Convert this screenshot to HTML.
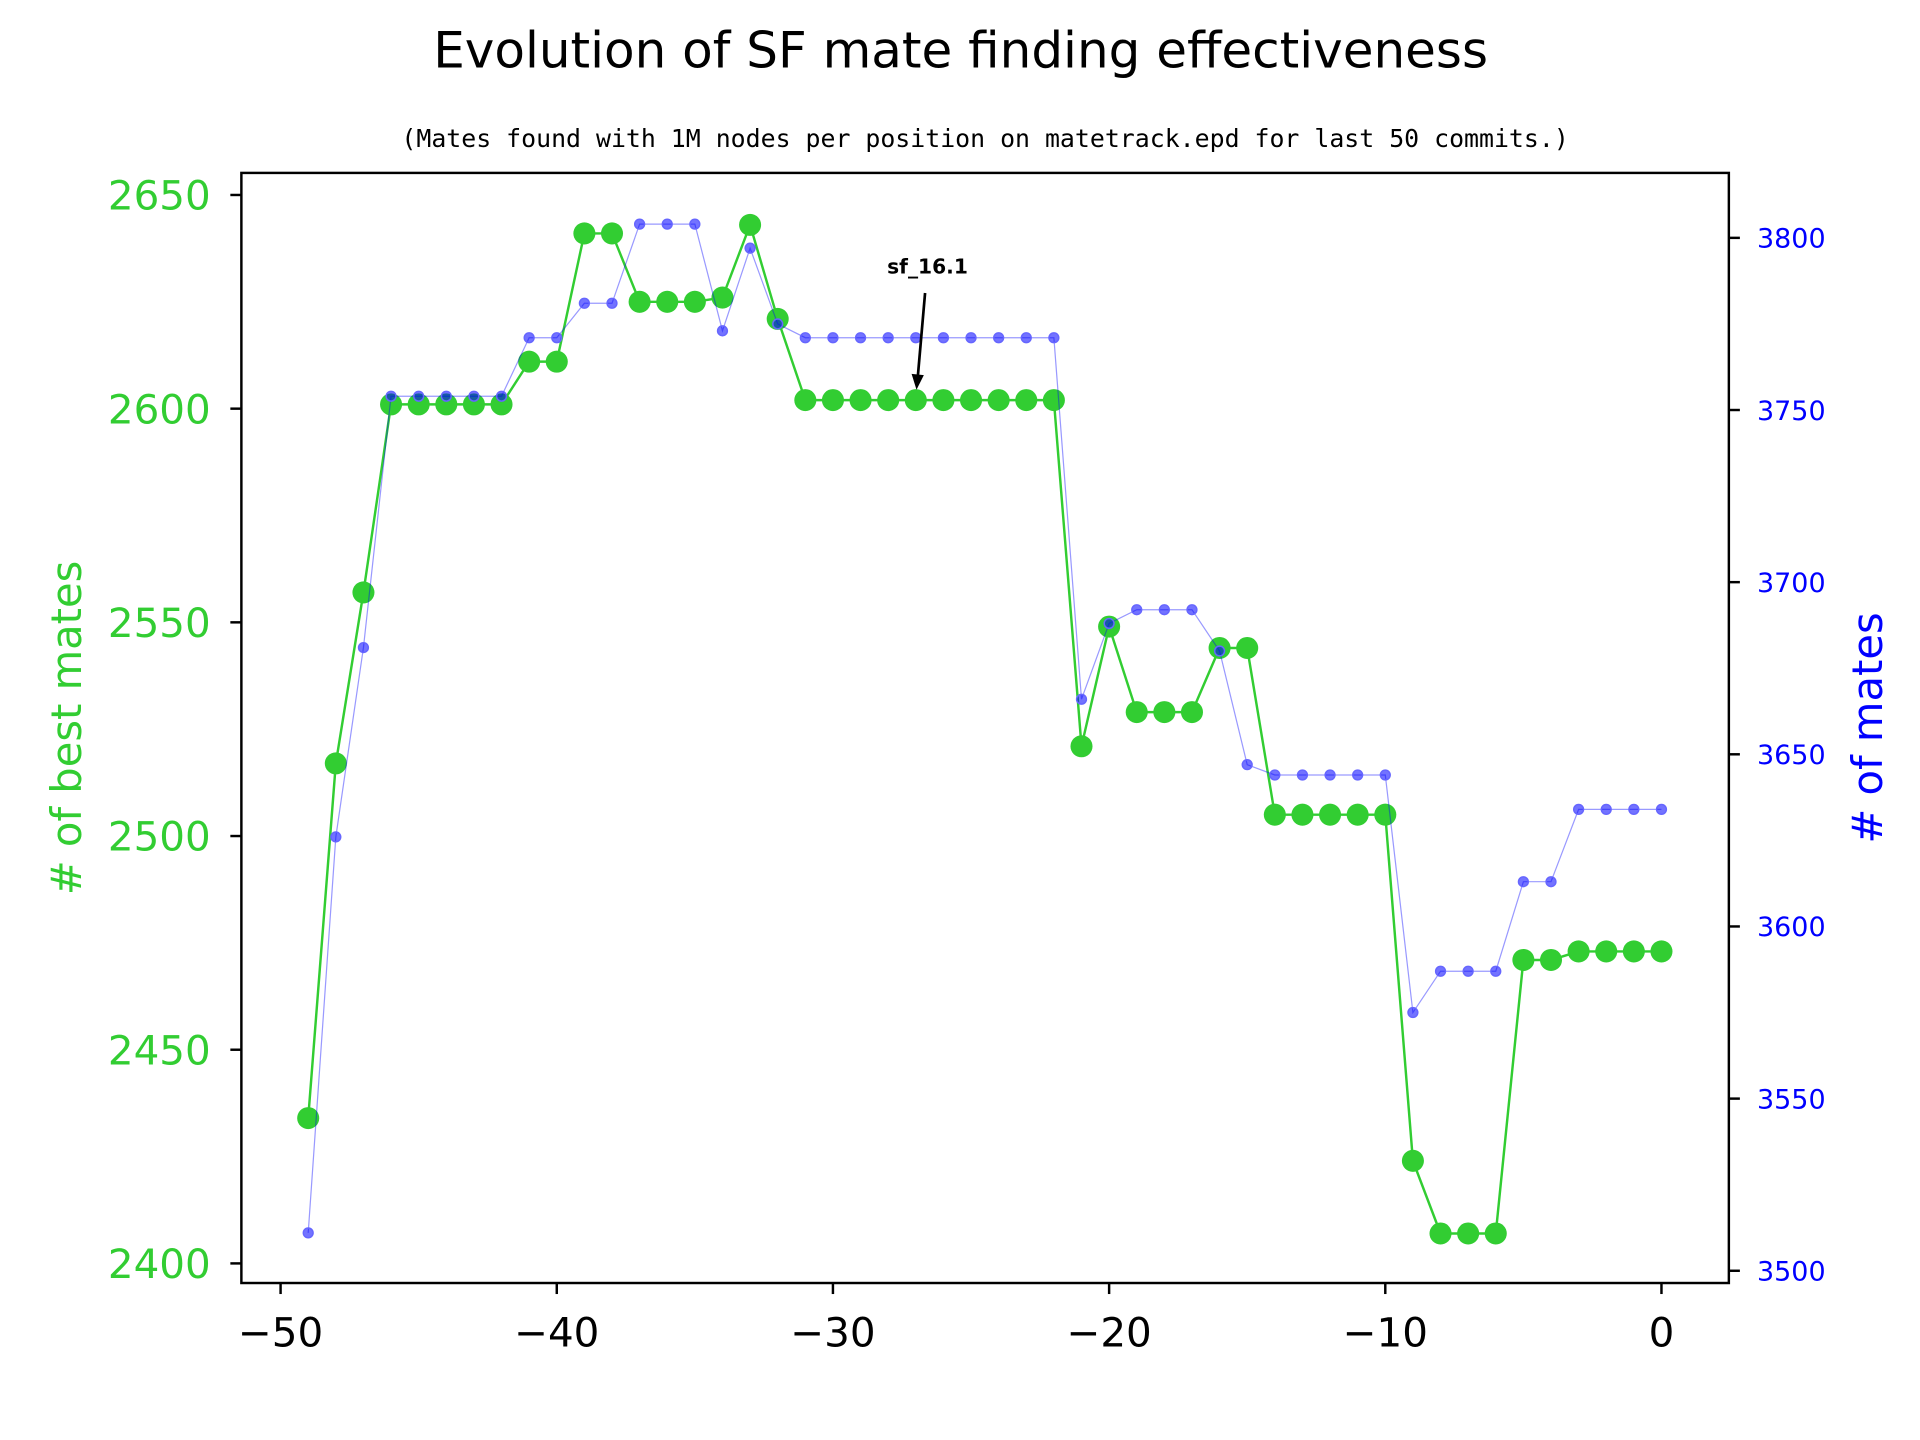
<!DOCTYPE html>
<html><head><meta charset="utf-8"><style>body{margin:0;background:#fff}svg{display:block}</style></head>
<body>
<svg id="chart" width="1920" height="1440" viewBox="0 0 1567 1175" xmlns="http://www.w3.org/2000/svg" font-family="'DejaVu Sans','Liberation Sans',sans-serif">
<rect width="1567" height="1175" fill="#fff"/>
<text x="784" y="55" font-size="40.8" text-anchor="middle">Evolution of SF mate finding effectiveness</text>
<text x="804" y="120" font-size="20.3" text-anchor="middle" font-family="'DejaVu Sans Mono','Liberation Mono',monospace">(Mates found with 1M nodes per position on matetrack.epd for last 50 commits.)</text>
<g id="plot"></g>
<text transform="translate(66,594) rotate(-90)" font-size="34" fill="#32cd32" text-anchor="middle"># of best mates</text>
<text transform="translate(1536,594) rotate(-90)" font-size="34" fill="#0000ff" text-anchor="middle"># of mates</text>
<text x="757" y="223" font-size="16.5" font-weight="bold" text-anchor="middle">sf_16.1</text>
<line x1="755" y1="239" x2="749" y2="308" stroke="#000" stroke-width="2.2"/>
<path d="M748,318 L744,305 L754,306 Z" fill="#000"/>
</svg>
<script>
const xs = [-49,-48,-47,-46,-45,-44,-43,-42,-41,-40,-39,-38,-37,-36,-35,-34,-33,-32,-31,-30,-29,-28,-27,-26,-25,-24,-23,-22,-21,-20,-19,-18,-17,-16,-15,-14,-13,-12,-11,-10,-9,-8,-7,-6,-5,-4,-3,-2,-1,0];
const bestMates = [2434,2517,2557,2601,2601,2601,2601,2601,2611,2611,2641,2641,2625,2625,2625,2626,2643,2621,2602,2602,2602,2602,2602,2602,2602,2602,2602,2602,2521,2549,2529,2529,2529,2544,2544,2505,2505,2505,2505,2505,2424,2407,2407,2407,2471,2471,2473,2473,2473,2473];
const mates = [3511,3626,3681,3754,3754,3754,3754,3754,3771,3771,3781,3781,3804,3804,3804,3773,3797,3775,3771,3771,3771,3771,3771,3771,3771,3771,3771,3771,3666,3688,3692,3692,3692,3680,3647,3644,3644,3644,3644,3644,3575,3587,3587,3587,3613,3613,3634,3634,3634,3634];
const xTicks = [-50,-40,-30,-20,-10,0];
const leftTicks = [2400,2450,2500,2550,2600,2650];
const rightTicks = [3500,3550,3600,3650,3700,3750,3800];

const NS='http://www.w3.org/2000/svg';
const g=document.getElementById('plot');
const X=v=>229+(v+50)*(1356-229)/50;
const YL=v=>1031-(v-2400)*(1031-159)/250;
const YR=v=>1037-(v-3500)*(1037-194)/300;
function mk(t,a,p){const e=document.createElementNS(NS,t);for(const k in a)e.setAttribute(k,a[k]);(p||g).appendChild(e);return e;}

let f=mk('rect',{x:197,y:141,width:1214,height:906,fill:'none',stroke:'#000','stroke-width':2});



xTicks.forEach(v=>{
  const l=mk('line',{x1:X(v),x2:X(v),y1:1047,y2:1056,stroke:'#000','stroke-width':2});
  
  
  const t=mk('text',{x:X(v),y:1099,'font-size':33,'text-anchor':'middle'});
  t.textContent=(v<0?'\u2212'+(-v):v);
  
  
});
leftTicks.forEach(v=>{
  const l=mk('line',{x1:188,x2:197,y1:YL(v),y2:YL(v),stroke:'#000','stroke-width':2});
  
  
  const t=mk('text',{x:172,y:YL(v)+12,'font-size':33,'text-anchor':'end',fill:'#32cd32'});
  t.textContent=v;
  
  
});
rightTicks.forEach(v=>{
  const l=mk('line',{x1:1411,x2:1420,y1:YR(v),y2:YR(v),stroke:'#000','stroke-width':2});
  
  
  const t=mk('text',{x:1434,y:YR(v)+8,'font-size':22,fill:'#0000ff'});
  t.textContent=v;
  
  
});

const gl=mk('polyline',{points:xs.map((x,i)=>X(x)+','+YL(bestMates[i])).join(' '),fill:'none',stroke:'#32cd32','stroke-width':2});


xs.forEach((x,i)=>{
  const c=mk('circle',{cx:X(x),cy:YL(bestMates[i]),r:9,fill:'#32cd32'});
  
  
});
const bl=mk('polyline',{points:xs.map((x,i)=>X(x)+','+YR(mates[i])).join(' '),fill:'none',stroke:'#0000ff','stroke-opacity':0.4,'stroke-width':1});


xs.forEach((x,i)=>{
  const c=mk('circle',{cx:X(x),cy:YR(mates[i]),r:4,fill:'#0000ff','fill-opacity':0.55,stroke:'#6666ff','stroke-width':1.2});
  
  
});
</script>
</body></html>
